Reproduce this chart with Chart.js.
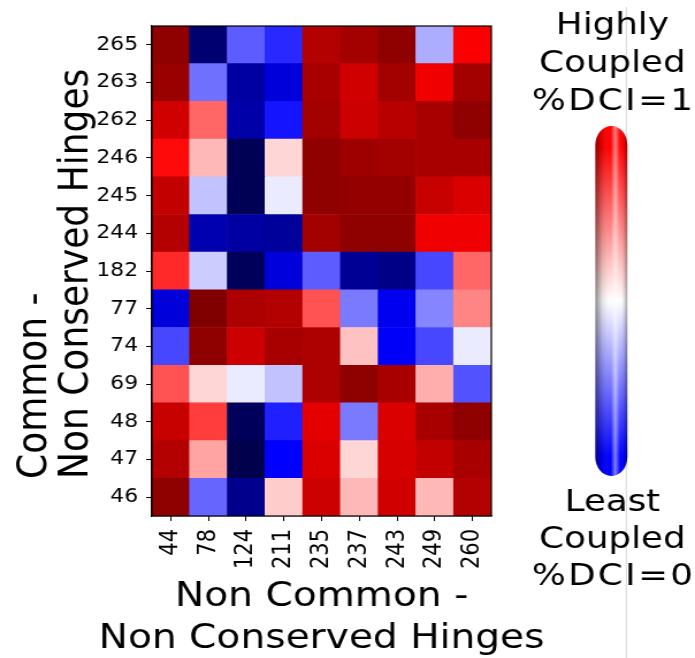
<!DOCTYPE html>
<html>
<head>
<meta charset="utf-8">
<script src="https://cdn.jsdelivr.net/npm/chart.js@4.4.1/dist/chart.umd.min.js"></script>
<style>
  html, body { margin: 0; padding: 0; background: #fff; }
  #heatmap { display: block; }
</style>
</head>
<body>
<!-- drawn at 604px wide, shown 695px wide: the reference figure is stretched sideways -->
<canvas id="heatmap" width="604" height="658" style="width:695px;height:658px"></canvas>
<script>

// hinge residues
const colLabels = ['44', '78', '124', '211', '235', '237', '243', '249', '260'];
const rowLabels = ['265', '263', '262', '246', '245', '244', '182', '77', '74', '69', '48', '47', '46'];

// %DCI per row (0 = least coupled, 1 = highly coupled), columns as colLabels
const h265 = [0.97, 0.05, 0.34, 0.29, 0.90, 0.93, 0.97, 0.42, 0.76];
const h263 = [0.95, 0.36, 0.12, 0.20, 0.92, 0.84, 0.93, 0.78, 0.93];
const h262 = [0.84, 0.65, 0.13, 0.27, 0.93, 0.85, 0.89, 0.92, 0.97];
const h246 = [0.74, 0.57, 0.01, 0.54, 0.97, 0.94, 0.93, 0.92, 0.92];
const h245 = [0.87, 0.44, 0.01, 0.48, 0.97, 0.96, 0.96, 0.86, 0.82];
const h244 = [0.90, 0.14, 0.12, 0.11, 0.93, 0.97, 0.97, 0.78, 0.78];
const h182 = [0.71, 0.45, 0.02, 0.20, 0.34, 0.10, 0.08, 0.32, 0.65];
const h77  = [0.20, 1.00, 0.91, 0.90, 0.67, 0.37, 0.23, 0.38, 0.62];
const h74  = [0.32, 0.97, 0.85, 0.92, 0.91, 0.56, 0.24, 0.32, 0.48];
const h69  = [0.67, 0.54, 0.48, 0.44, 0.91, 0.97, 0.92, 0.58, 0.33];
const h48  = [0.86, 0.69, 0.02, 0.28, 0.80, 0.37, 0.82, 0.92, 0.97];
const h47  = [0.90, 0.59, 0.00, 0.25, 0.82, 0.54, 0.83, 0.87, 0.92];
const h46  = [0.97, 0.35, 0.09, 0.55, 0.85, 0.57, 0.84, 0.57, 0.90];

const rowValues = [h265, h263, h262, h246, h245, h244, h182, h77, h74, h69, h48, h47, h46];

// matplotlib 'seismic'
function seismic(v) {
    const stops = [[0, 0, 0.3], [0, 0, 1], [1, 1, 1], [1, 0, 0], [0.5, 0, 0]];
    const t = Math.min(Math.max(v, 0), 1) * 4;
    const i = Math.min(Math.floor(t), 3);
    const f = t - i;
    const c = [0, 1, 2].map(k => Math.round(255 * (stops[i][k] + (stops[i + 1][k] - stops[i][k]) * f)));
    return 'rgb(' + c.join(',') + ')';
}

const FONT = "'DejaVu Sans', sans-serif";
const nRows = rowLabels.length;

// one stacked dataset per row, bottom row first
const datasets = [];
for (let r = nRows - 1; r >= 0; r--) {
    datasets.push({
        label: rowLabels[r],
        data: colLabels.map(() => 1),
        backgroundColor: rowValues[r].map(seismic),
        borderWidth: 0,
        barPercentage: 1,
        categoryPercentage: 1
    });
}

const framePlugin = {
    id: 'frame',
    afterDatasetsDraw(chart) {
        const {ctx, chartArea: a} = chart;
        ctx.save();
        ctx.strokeStyle = '#000';
        ctx.lineWidth = 1.2;
        ctx.strokeRect(a.left, a.top, a.right - a.left, a.bottom - a.top);
        ctx.restore();
    }
};

// axis titles drawn by hand: chart.js squeezes them to the plot width
// and centres every line, the figure has them wider and the y lines start-aligned
const axisTitlePlugin = {
    id: 'axistitles',
    afterDraw(chart) {
        const {ctx, chartArea: a} = chart;
        const cx = (a.left + a.right) / 2;
        ctx.save();
        ctx.fillStyle = '#000';
        ctx.font = '34px ' + FONT;
        ctx.textAlign = 'center';
        ctx.textBaseline = 'alphabetic';
        ctx.fillText('Non Common -', cx, 606);
        ctx.fillText('Non Conserved Hinges', cx, 648);

        ctx.font = '36px ' + FONT;
        ctx.textAlign = 'left';
        ctx.translate(40, 479);
        ctx.rotate(-Math.PI / 2);
        ctx.fillText('Common -', 0, 0);
        ctx.fillText('Non Conserved Hinges', 0, 36);
        ctx.restore();
    }
};

// the shaded colour bar at the right
const colorbarPlugin = {
    id: 'pillbar',
    afterDraw(chart) {
        const ctx = chart.ctx;
        const left = 517.4, right = 545.2, top = 126, bottom = 476;
        const cx = (left + right) / 2, rx = (right - left) / 2, ry = 19;

        ctx.save();
        ctx.strokeStyle = '#d4d4d4';
        ctx.lineWidth = 1;
        ctx.beginPath();
        ctx.moveTo(544.3, 7);
        ctx.lineTo(544.3, 658);
        ctx.stroke();

        ctx.beginPath();
        ctx.moveTo(left, top + ry);
        ctx.ellipse(cx, top + ry, rx, ry, 0, Math.PI, 2 * Math.PI);
        ctx.lineTo(right, bottom - ry);
        ctx.ellipse(cx, bottom - ry, rx, ry, 0, 0, Math.PI);
        ctx.closePath();

        const g = ctx.createLinearGradient(0, top, 0, bottom);
        g.addColorStop(0, '#ff0000');
        g.addColorStop(0.06, '#ff0000');
        g.addColorStop(0.5, '#ffffff');
        g.addColorStop(0.94, '#0000ff');
        g.addColorStop(1, '#0000ff');
        ctx.fillStyle = g;
        ctx.fill();

        const s = ctx.createLinearGradient(left, 0, right, 0);
        s.addColorStop(0, 'rgba(0,0,0,0.45)');
        s.addColorStop(0.2, 'rgba(0,0,0,0.12)');
        s.addColorStop(0.48, 'rgba(255,255,255,0)');
        s.addColorStop(0.62, 'rgba(255,255,255,0.5)');
        s.addColorStop(0.78, 'rgba(255,255,255,0)');
        s.addColorStop(0.9, 'rgba(0,0,0,0.12)');
        s.addColorStop(1, 'rgba(0,0,0,0.35)');
        ctx.fillStyle = s;
        ctx.fill();

        ctx.fillStyle = '#000';
        ctx.font = '31px ' + FONT;
        ctx.textAlign = 'center';
        ctx.textBaseline = 'alphabetic';
        ctx.fillText('Highly', 532.2, 34);
        ctx.fillText('Coupled', 532.2, 72);
        ctx.fillText('Least', 532.2, 511);
        ctx.fillText('Coupled', 532.2, 548);
        ctx.letterSpacing = '2px';
        ctx.fillText('%DCI=1', 533.2, 110);
        ctx.fillText('%DCI=0', 533.2, 585);
        ctx.restore();
    }
};

const config = {
    type: 'bar',
    data: {labels: colLabels, datasets: datasets},
    options: {
        responsive: false,
        animation: false,
        devicePixelRatio: 1,
        layout: {padding: {top: 26, right: 177, bottom: 0, left: 0}},
        plugins: {legend: {display: false}, tooltip: {enabled: false}},
        scales: {
            x: {
                type: 'category',
                stacked: true,
                grid: {offset: false, drawOnChartArea: false, drawTicks: true, tickLength: 5, color: '#000'},
                border: {display: true, color: '#000', width: 1.2},
                ticks: {color: '#000', font: {family: FONT, size: 21}, minRotation: 90, maxRotation: 90, autoSkip: false, padding: 8},
                afterFit(scale) { scale.height = 142; }
            },
            y: {
                type: 'linear',
                stacked: true,
                min: 0,
                max: nRows,
                afterBuildTicks(scale) {
                    scale.ticks = rowLabels.map((_, i) => ({value: i + 0.5}));
                },
                grid: {drawOnChartArea: false, drawTicks: true, tickLength: 5, color: '#000'},
                border: {display: true, color: '#000', width: 1.2},
                ticks: {
                    color: '#000',
                    font: {family: FONT, size: 19},
                    autoSkip: false,
                    padding: 7,
                    callback: (v) => rowLabels[nRows - 1 - Math.floor(v)]
                },
                afterFit(scale) { scale.width = 132; }
            }
        }
    },
    plugins: [framePlugin, axisTitlePlugin, colorbarPlugin]
};

new Chart(document.getElementById('heatmap'), config);
</script>
</body>
</html>
